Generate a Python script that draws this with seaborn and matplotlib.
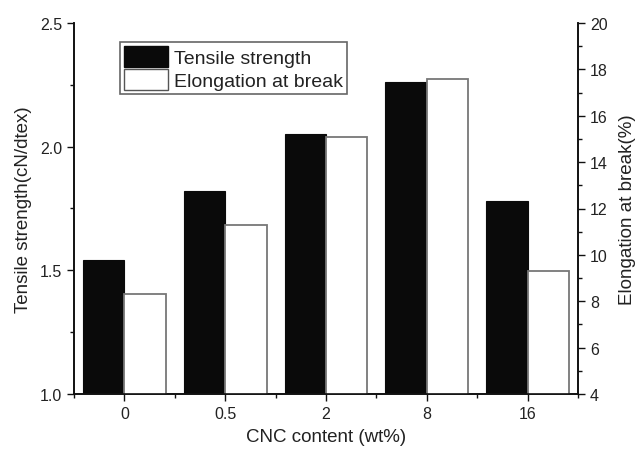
import matplotlib

matplotlib.use("Agg")
import matplotlib.pyplot as plt
import numpy as np
import pandas as pd
import seaborn as sns
from matplotlib.patches import Patch
from matplotlib.ticker import MultipleLocator, FixedLocator

contents = ["0", "0.5", "2", "8", "16"]
tensile = [1.54, 1.82, 2.05, 2.26, 1.78]
elongation = [8.3, 11.3, 15.1, 17.6, 9.3]
series = ["Tensile strength", "Elongation at break"]

sns.set_theme(style="ticks")
plt.rcParams["font.family"] = ["Liberation Sans", "DejaVu Sans"]

df_t = pd.DataFrame({"content": contents, "value": tensile, "series": series[0]})
df_e = pd.DataFrame({"content": contents, "value": elongation, "series": series[1]})

fig = plt.figure(figsize=(6.43, 4.56), dpi=100)
ax = fig.add_axes([74 / 643, 1 - 395 / 456, 504 / 643, 371 / 456])
ax2 = ax.twinx()

palette = {series[0]: "#0a0a0a", series[1]: "white"}
sns.barplot(data=df_t, x="content", y="value", hue="series", hue_order=series,
            order=contents, palette=palette, width=0.82, dodge=True, ax=ax,
            edgecolor="#0a0a0a", linewidth=0.8, legend=False)
sns.barplot(data=df_e, x="content", y="value", hue="series", hue_order=series,
            order=contents, palette=palette, width=0.82, dodge=True, ax=ax2,
            edgecolor="#777777", linewidth=1.3, legend=False)

ax.set_xlim(-0.5, 4.5)
ax.set_ylim(1.0, 2.5)
ax2.set_ylim(4, 20)

ax.yaxis.set_major_locator(FixedLocator([1.0, 1.5, 2.0, 2.5]))
ax.yaxis.set_minor_locator(FixedLocator([1.25, 1.75, 2.25]))
ax.yaxis.set_major_formatter(matplotlib.ticker.FormatStrFormatter("%.1f"))
ax2.yaxis.set_major_locator(MultipleLocator(2))
ax2.yaxis.set_minor_locator(MultipleLocator(1))
ax.xaxis.set_minor_locator(FixedLocator(np.arange(-0.5, 5, 1.0)))

tick_color = "#222222"
for a in (ax, ax2):
    a.tick_params(which="major", length=5, width=1.0, direction="out",
                  labelsize=11.5, colors="#111111", labelcolor=tick_color)
    a.tick_params(which="minor", length=3, width=1.0, direction="out", colors="#111111")
    a.spines["top"].set_visible(False)
    for s in ("left", "bottom", "right"):
        a.spines[s].set_linewidth(1.2)
        a.spines[s].set_color("#111111")
ax2.tick_params(axis="y", which="both", right=True, left=False)
ax.tick_params(axis="y", which="both", right=False)

ax.set_xlabel("CNC content (wt%)", fontsize=13.5, color=tick_color, labelpad=5)
ax.set_ylabel("Tensile strength(cN/dtex)", fontsize=13.5, color=tick_color, labelpad=6)
ax2.set_ylabel("Elongation at break(%)", fontsize=13.5, color=tick_color, labelpad=8)

handles = [Patch(facecolor="#0a0a0a", edgecolor="#0a0a0a", label=series[0]),
           Patch(facecolor="white", edgecolor="#555555", label=series[1])]
leg = ax2.legend(handles=handles, loc="upper left", bbox_to_anchor=(0.091, 0.948),
                 fontsize=14, frameon=True, fancybox=False, edgecolor="#666666",
                 framealpha=1, handlelength=2.3, handleheight=1.25,
                 borderpad=0.2, labelspacing=0.1, handletextpad=0.3,
                 borderaxespad=0)
leg.get_frame().set_linewidth(1.2)
for t in leg.get_texts():
    t.set_color(tick_color)

fig.savefig("out.png", dpi=100)
